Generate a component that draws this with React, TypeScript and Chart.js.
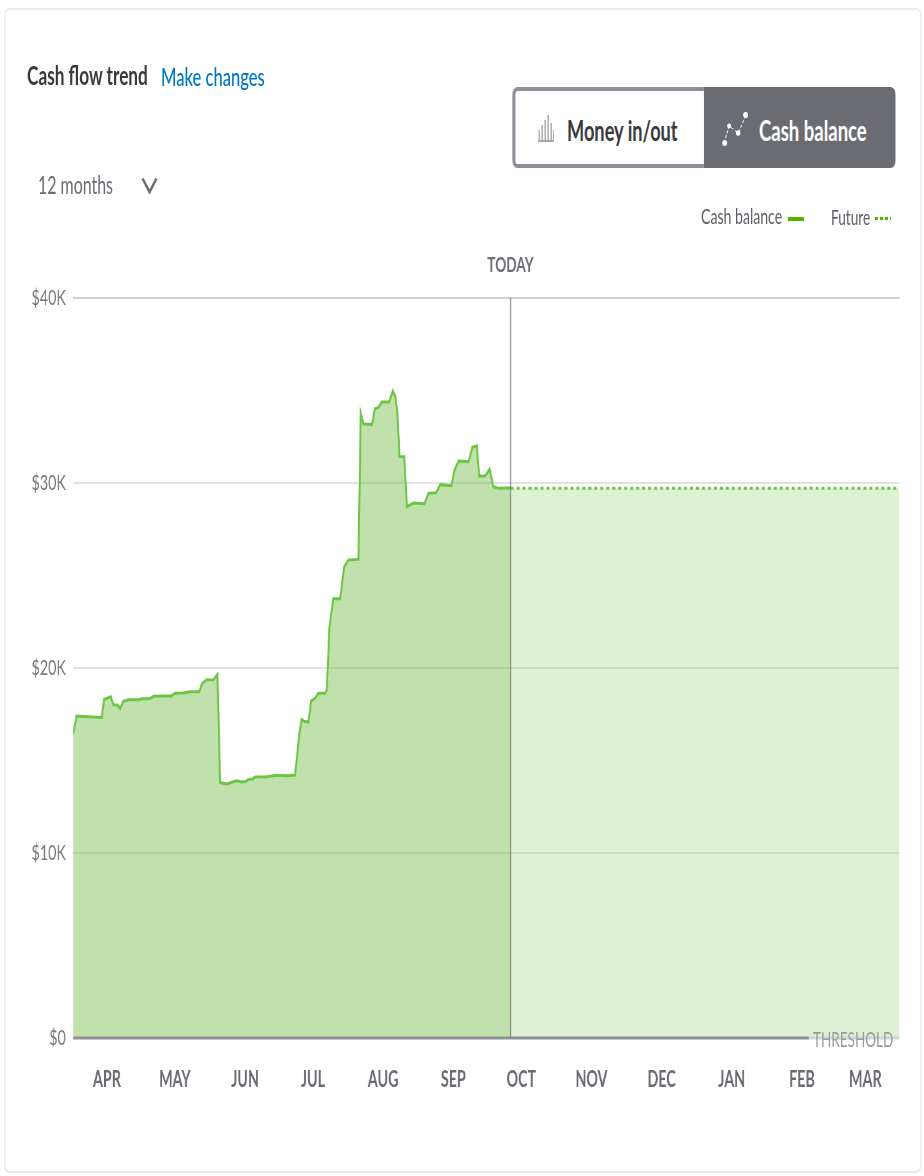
import React, { useEffect, useRef } from "react";
import { Chart, registerables } from "chart.js";

Chart.register(...registerables);

// ---- data (days since 1 April, dollars) ----
const balanceDays = [0, 1.6, 12.7, 13.7, 16.7, 17.8, 19.6, 20.8, 22.2, 24.4, 28.9, 30.4, 34, 35.5, 41.7, 43.3, 45, 48.7, 51.7, 55.8, 56.9, 58.8, 62, 63.8, 65, 67.9, 70.8, 72.3, 74.5, 76.4, 77.5, 79.4, 80.4, 85.6, 90, 94.4, 98.1, 100, 101, 102, 104, 105.2, 106.9, 108.4, 111.4, 112.1, 113.3, 115, 118, 119.8, 121.7, 126.1, 127.1, 128.3, 132.1, 133.3, 134.9, 136.4, 139.6, 141.3, 142.4, 143.3, 144.2, 146.3, 147.5, 150.4, 155.2, 157, 160.4, 162.2, 167.2, 168.4, 170.3, 174.7, 176.4, 178.4, 179.4, 182, 184, 185.7, 187.9, 191.6, 193.3];
const balanceValues = [16400, 17400, 17330, 18300, 18450, 18010, 18000, 17800, 18200, 18280, 18280, 18340, 18340, 18470, 18480, 18480, 18630, 18650, 18720, 18720, 19130, 19350, 19370, 19660, 13800, 13730, 13850, 13910, 13840, 13870, 13980, 14000, 14110, 14120, 14200, 14180, 14210, 16470, 17230, 17120, 17080, 18230, 18360, 18630, 18630, 18810, 22230, 23740, 23740, 25470, 25840, 25870, 33770, 33190, 33170, 34000, 34090, 34380, 34380, 34990, 34660, 33770, 31420, 31420, 28720, 28920, 28880, 29440, 29470, 29910, 29850, 30660, 31190, 31150, 31930, 32000, 30380, 30380, 30740, 29800, 29710, 29730, 29730];
const futureDays = [193.3, 365];
const futureValues = [29720, 29720];
const todayDays = [193.3, 193.3];
const todayValues = [0, 40000];
const thresholdDays = [0, 325];
const thresholdRestDays = [325, 365];
const thresholdValues = [0, 0];
const monthTickDays = [15, 45, 76, 106, 137, 168, 198, 229, 260, 291, 322, 350];
const monthLabels = ["APR", "MAY", "JUN", "JUL", "AUG", "SEP", "OCT", "NOV", "DEC", "JAN", "FEB", "MAR"];
const yTickValues = [0, 10000, 20000, 30000, 40000];
const yTickLabels = ["$0", "$10K", "$20K", "$30K", "$40K"];

// ---- layout ----
const S = 0.65; // whole page is horizontally condensed by this factor
const X = (px: number) => px / S;
const FONT = "Lato, 'Noto Sans', sans-serif";

const pts = (xs: number[], ys: number[]) => xs.map((x, i) => ({ x, y: ys[i] }));

function T(props: { x: number; cy: number; size: number; color: string; weight?: number; center?: boolean; children: React.ReactNode }) {
  const { x, cy, size, color, weight, center, children } = props;
  return (
    <div
      style={{
        position: "absolute",
        left: X(x),
        top: cy - size,
        height: size * 2,
        lineHeight: `${size * 2}px`,
        fontFamily: FONT,
        fontSize: size,
        color,
        fontWeight: weight ?? 400,
        whiteSpace: "nowrap",
        transform: center ? "translateX(-50%)" : undefined,
      }}
    >
      {children}
    </div>
  );
}

export default function App() {
  const ref = useRef<HTMLCanvasElement | null>(null);

  useEffect(() => {
    if (!ref.current) return;
    const chart = new Chart(ref.current, {
      type: "line",
      data: {
        datasets: [
          {
            label: "Today",
            data: pts(todayDays, todayValues),
            borderColor: "rgba(90,92,98,0.65)",
            borderWidth: 1.6,
            pointRadius: 0,
            fill: false,
            order: 0,
          },
          {
            label: "Threshold",
            data: pts(thresholdDays, thresholdValues),
            borderColor: "#8f9297",
            borderWidth: 3,
            pointRadius: 0,
            fill: false,
            clip: false,
            order: 1,
          },
          {
            label: "Threshold end",
            data: pts(thresholdRestDays, thresholdValues),
            borderColor: "#d4d5d6",
            borderWidth: 3,
            pointRadius: 0,
            fill: false,
            clip: false,
            order: 1,
          },
          {
            label: "Cash balance",
            data: pts(balanceDays, balanceValues),
            borderColor: "#6cc644",
            borderWidth: 3,
            backgroundColor: "rgba(84,170,30,0.368)",
            pointRadius: 0,
            tension: 0,
            fill: "origin",
            order: 2,
          },
          {
            label: "Future",
            data: pts(futureDays, futureValues),
            borderColor: "#6cc644",
            borderWidth: 3,
            borderDash: [4.6, 4.6],
            backgroundColor: "rgba(84,178,20,0.19)",
            pointRadius: 0,
            fill: "origin",
            order: 2,
          },
        ],
      },
      options: {
        responsive: false,
        animation: false,
        events: [],
        layout: { padding: { left: 0, top: 298, right: X(924 - 899), bottom: 1176 - 1038 - 60 } },
        plugins: { legend: { display: false }, tooltip: { enabled: false }, title: { display: false } },
        scales: {
          x: {
            type: "linear",
            min: 0,
            max: 365,
            grid: { display: false },
            border: { display: false },
            afterBuildTicks: (axis: any) => {
              axis.ticks = monthTickDays.map((value) => ({ value }));
            },
            afterFit: (axis: any) => {
              axis.height = 60;
            },
            ticks: {
              autoSkip: false,
              maxRotation: 0,
              padding: 21,
              color: "#6b6c72",
              font: { family: FONT, size: 22, weight: 700 },
              callback: (v: any) => monthLabels[monthTickDays.indexOf(Number(v))] ?? "",
            },
          },
          y: {
            type: "linear",
            min: 0,
            max: 40000,
            grid: {
              color: (c: any) => (c.tick && c.tick.value === 40000 ? "#cfd0d2" : "rgba(0,0,0,0.11)"),
              lineWidth: 2,
              drawTicks: false,
            },
            border: { display: false },
            afterBuildTicks: (axis: any) => {
              axis.ticks = yTickValues.map((value) => ({ value }));
            },
            afterFit: (axis: any) => {
              axis.width = X(73);
            },
            ticks: {
              padding: 11,
              color: "#77787d",
              font: { family: FONT, size: 22 },
              callback: (v: any) => yTickLabels[yTickValues.indexOf(Number(v))] ?? "",
            },
          },
        },
      },
    });
    return () => chart.destroy();
  }, []);

  return (
    <div style={{ position: "absolute", left: 0, top: 0, width: 924, height: 1176, overflow: "hidden", background: "#fff" }}>
      <div style={{ position: "absolute", left: 0, top: 0, width: X(924), height: 1176, transform: `scaleX(${S})`, transformOrigin: "0 0" }}>
        {/* card */}
        <div
          style={{
            position: "absolute",
            left: X(4),
            top: 8,
            width: X(918),
            height: 1165,
            border: "2px solid #e9e9ea",
            borderRadius: 8,
            boxSizing: "border-box",
          }}
        />
        <canvas ref={ref} width={Math.round(X(924))} height={1176} style={{ position: "absolute", left: 0, top: 0, width: X(924), height: 1176 }} />

        <T x={27} cy={75} size={26.500} color="#393a3d" weight={700}>Cash flow trend</T>
        <T x={161} cy={76} size={25.500} color="#0077c5" weight={500}>Make changes</T>
        <T x={38} cy={184} size={24.500} color="#6b6c72">12 months</T>
        <svg style={{ position: "absolute", left: X(141), top: 177, width: X(17), height: 17 }} viewBox="0 0 17 17" preserveAspectRatio="none">
          <path d="M1.5 1.5 L8.5 15 L15.5 1.5" fill="none" stroke="#6b6c72" strokeWidth={2.500} />
        </svg>

        {/* toggle */}
        <div style={{ position: "absolute", left: X(512), top: 87, width: X(192), height: 81, boxSizing: "border-box", background: "#fff", borderStyle: "solid", borderColor: "#8d9096", borderWidth: `4px 0 4px 5px`, borderRadius: "8px 0 0 8px" }} />
        <div style={{ position: "absolute", left: X(704), top: 87, width: X(192), height: 81, background: "#6b6c72", borderRadius: "0 8px 8px 0" }} />
        <svg style={{ position: "absolute", left: X(538), top: 115, width: X(16), height: 27 }} viewBox="0 0 16 27" preserveAspectRatio="none">
          <path d="M1 27V15M4 27V10M7 27V5M10 27V0M13 27V8M15.500 27V15" stroke="#a5a7ab" strokeWidth={1.4} fill="none" />
          <path d="M0 26H16" stroke="#a5a7ab" strokeWidth={2} />
        </svg>
        <T x={567} cy={130} size={28} color="#393a3d" weight={700}>Money in/out</T>
        <svg style={{ position: "absolute", left: X(722), top: 112, width: X(26), height: 34 }} viewBox="0 0 26 34" preserveAspectRatio="none">
          <path d="M2 31L7 14L16 21L24 3" stroke="#fff" strokeWidth={1} strokeDasharray="3 2" fill="none" />
          <ellipse cx="2.500" cy="31" rx="2.500" ry="3" fill="#fff" />
          <ellipse cx="7" cy="14" rx="2" ry="2.400" fill="#fff" />
          <ellipse cx="16" cy="21" rx="2.200" ry="2.700" fill="#fff" />
          <ellipse cx="23.500" cy="3" rx="2.500" ry="3" fill="#fff" />
        </svg>
        <T x={759} cy={130} size={28.500} color="#ffffff" weight={700}>Cash balance</T>

        {/* legend */}
        <T x={701} cy={217} size={21.700} color="#5f6066">Cash balance</T>
        <div style={{ position: "absolute", left: X(788), top: 216.5, width: X(16), height: 4, background: "#53b700" }} />
        <T x={831} cy={217} size={21} color="#5f6066">Future</T>
        <div style={{ position: "absolute", left: X(875), top: 217, width: X(16), height: 3, backgroundImage: "repeating-linear-gradient(90deg,#53b700 0 4.6px,transparent 4.6px 7.7px)" }} />

        <T x={510.5} cy={264} size={21} color="#6f7075" weight={700} center>TODAY</T>
        <T x={813} cy={1039} size={20.800} color="#9a9ca0">THRESHOLD</T>
      </div>
    </div>
  );
}
